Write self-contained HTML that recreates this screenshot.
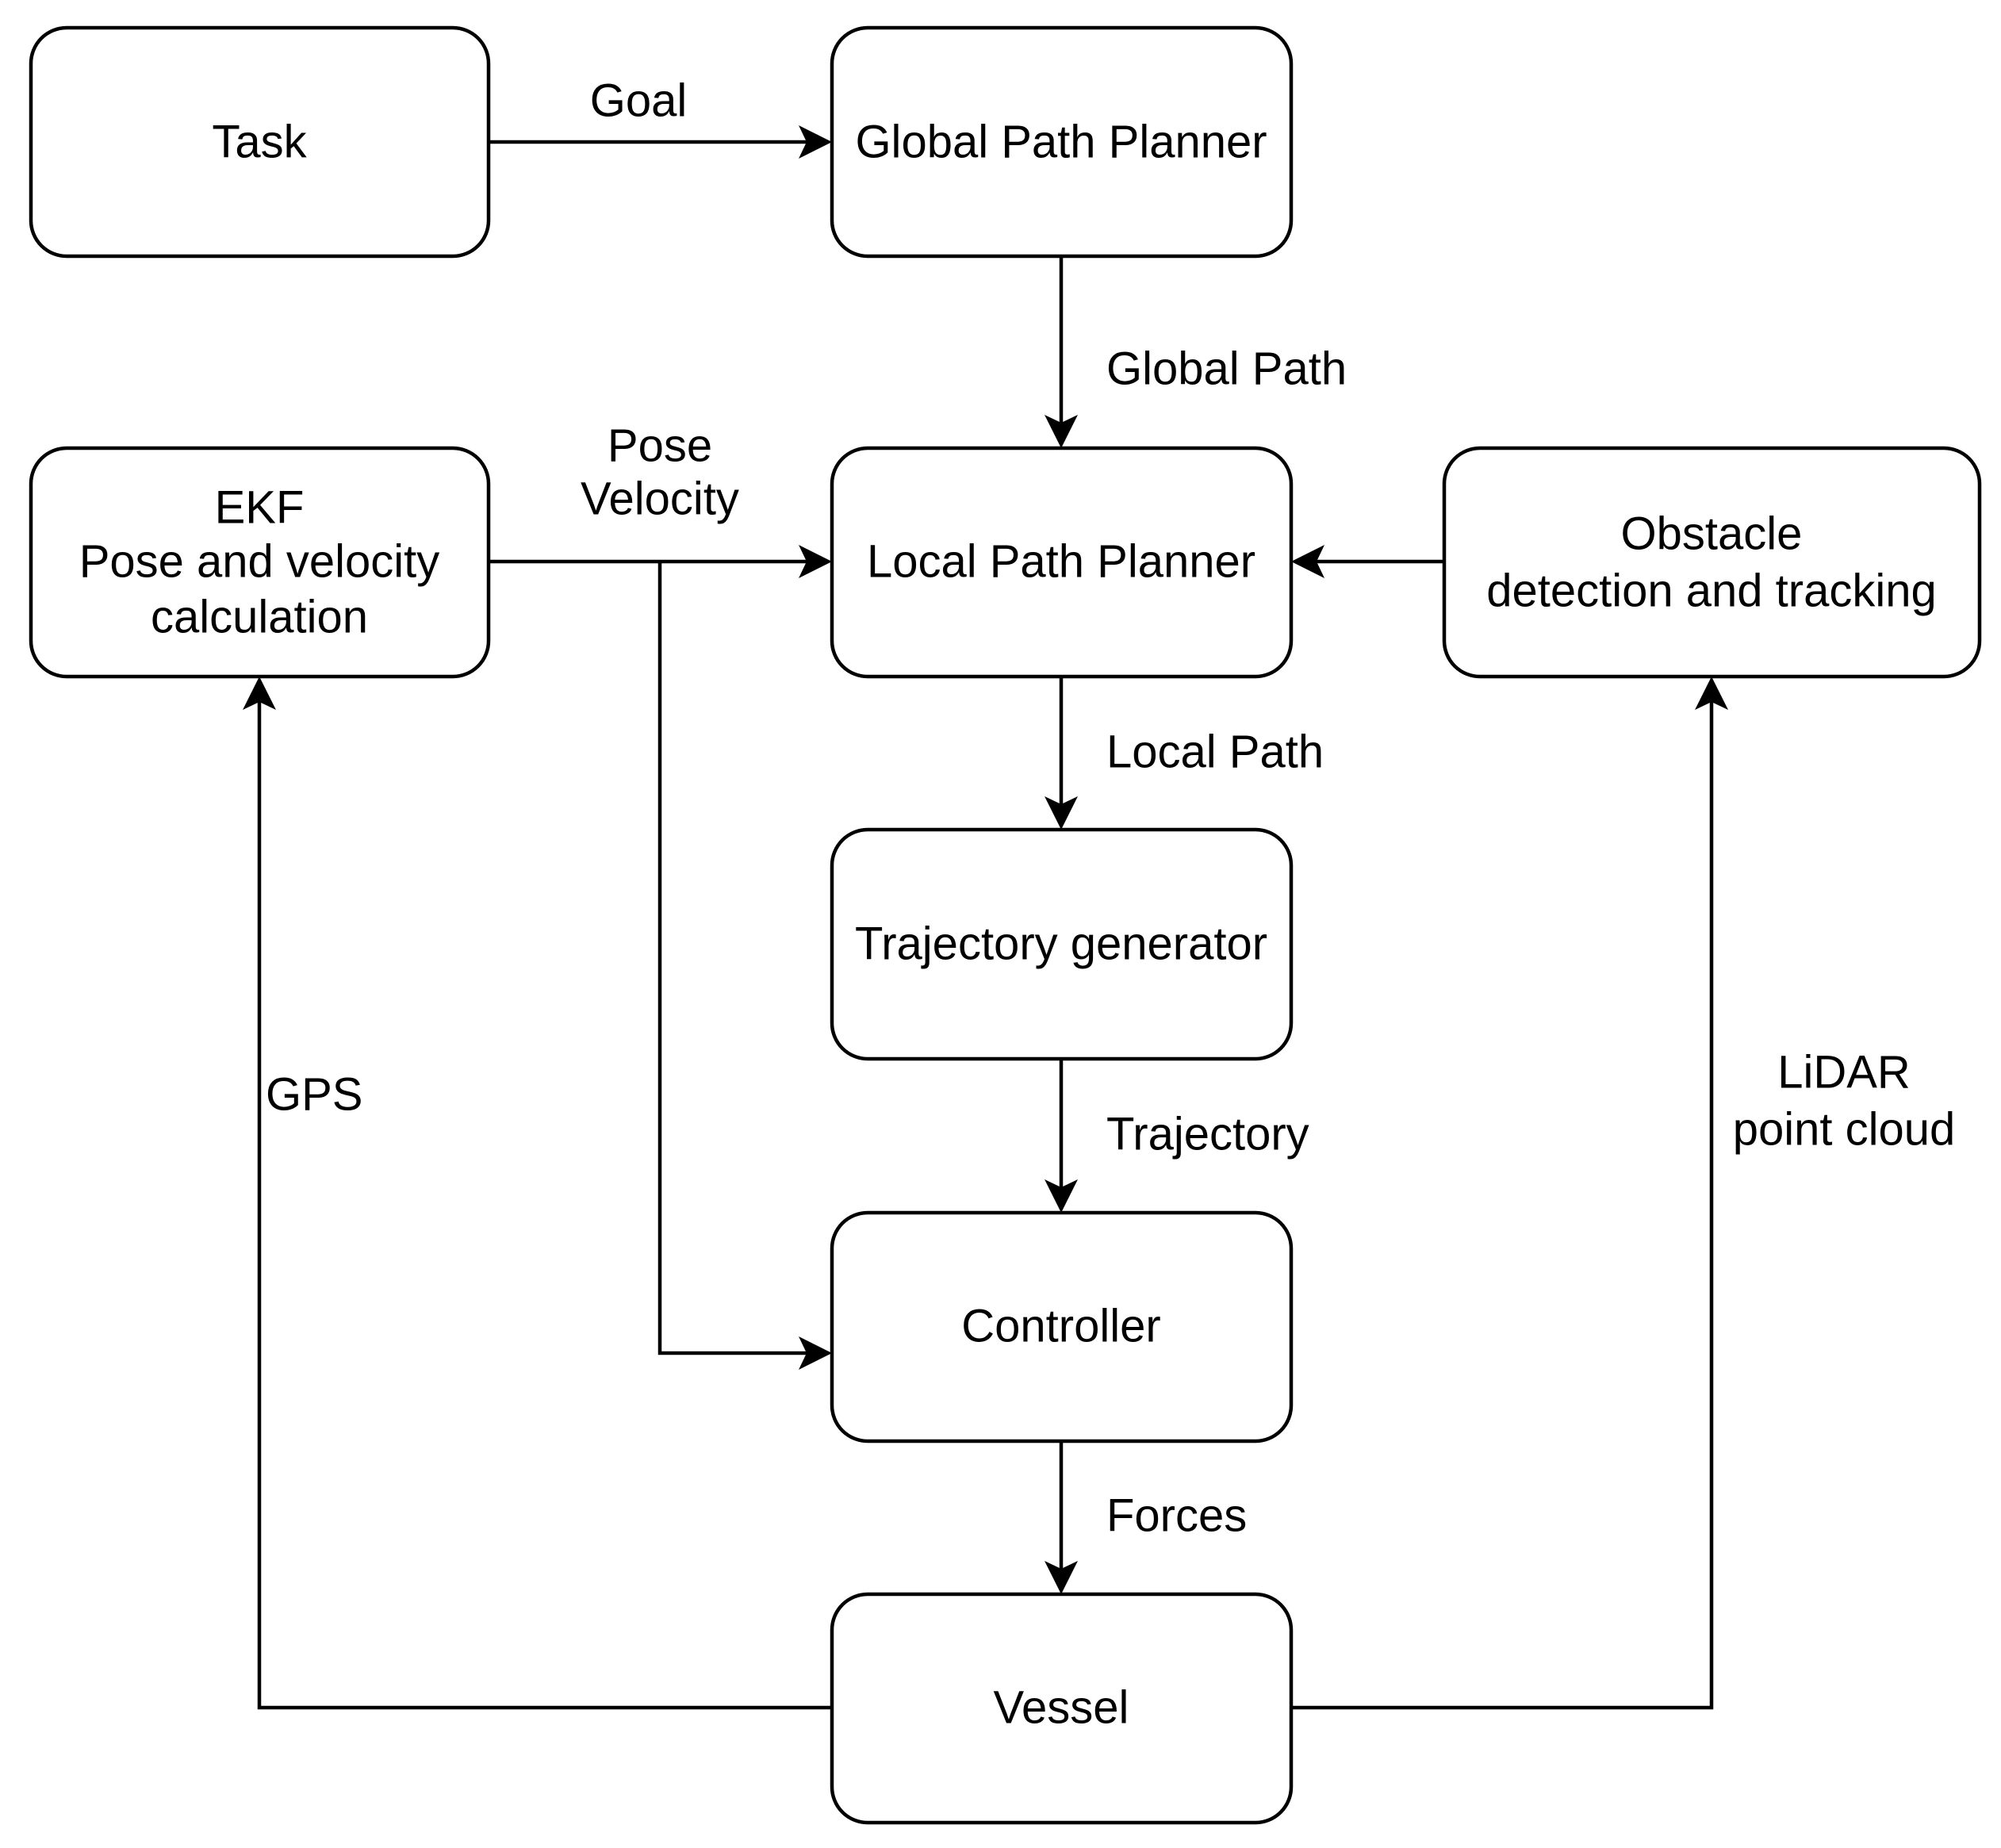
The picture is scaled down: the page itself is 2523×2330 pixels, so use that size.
<!DOCTYPE html>
<html><head><style>
body{margin:0;background:#fff}
svg text{font-family:"Liberation Sans",Arial,sans-serif;font-size:58px;fill:#000}
</style></head><body>
<svg width="2523" height="2325" viewBox="0 0 2523 2325" xmlns="http://www.w3.org/2000/svg">
<g fill="none" stroke="#000" stroke-width="4.5">
<rect x="39" y="35" width="577" height="288" rx="45"/>
<rect x="1049" y="35" width="579" height="288" rx="45"/>
<rect x="39" y="565" width="577" height="288" rx="45"/>
<rect x="1049" y="565" width="579" height="288" rx="45"/>
<rect x="1821" y="565" width="675" height="288" rx="45"/>
<rect x="1049" y="1046" width="579" height="289" rx="45"/>
<rect x="1049" y="1529" width="579" height="288" rx="45"/>
<rect x="1049" y="2010" width="579" height="288" rx="45"/>
<path d="M616 179H1020"/>
<path d="M1338 323V535"/>
<path d="M616 708H1020"/>
<path d="M832 708V1706H1020"/>
<path d="M1821 708H1658"/>
<path d="M1338 853V1016"/>
<path d="M1338 1335V1499"/>
<path d="M1338 1817V1980"/>
<path d="M1049 2153H327V883"/>
<path d="M1628 2153H2158V883"/>
</g>
<g fill="#000">
<path d="M1049 179l-42 -21 10 21 -10 21z"/>
<path d="M1338 565l-21 -42 21 10 21 -10z"/>
<path d="M1049 708l-42 -21 10 21 -10 21z"/>
<path d="M1049 1706l-42 -21 10 21 -10 21z"/>
<path d="M1628 708l42 -21 -10 21 10 21z"/>
<path d="M1338 1046l-21 -42 21 10 21 -10z"/>
<path d="M1338 1529l-21 -42 21 10 21 -10z"/>
<path d="M1338 2010l-21 -42 21 10 21 -10z"/>
<path d="M327 853l-21 42 21 -10 21 10z"/>
<path d="M2158 853l-21 42 21 -10 21 10z"/>
</g>
<g text-anchor="middle" dominant-baseline="central">
<text x="327" y="179">Task</text>
<text x="1338" y="179">Global Path Planner</text>
<text x="327" y="640">EKF</text>
<text x="327" y="708">Pose and velocity</text>
<text x="327" y="778">calculation</text>
<text x="1338" y="708">Local Path Planner</text>
<text x="2158" y="673">Obstacle</text>
<text x="2158" y="745">detection and tracking</text>
<text x="1338" y="1190">Trajectory generator</text>
<text x="1338" y="1672">Controller</text>
<text x="1338" y="2153">Vessel</text>
<text x="805" y="127">Goal</text>
<text x="832" y="562">Pose</text>
<text x="832" y="629">Velocity</text>
<text x="2325" y="1352">LiDAR</text>
<text x="2325" y="1424">point cloud</text>
</g>
<g dominant-baseline="central">
<text x="1395" y="465">Global Path</text>
<text x="1395" y="948">Local Path</text>
<text x="1395" y="1430">Trajectory</text>
<text x="1395" y="1911">Forces</text>
<text x="335" y="1380">GPS</text>
</g>
</svg>
</body></html>
